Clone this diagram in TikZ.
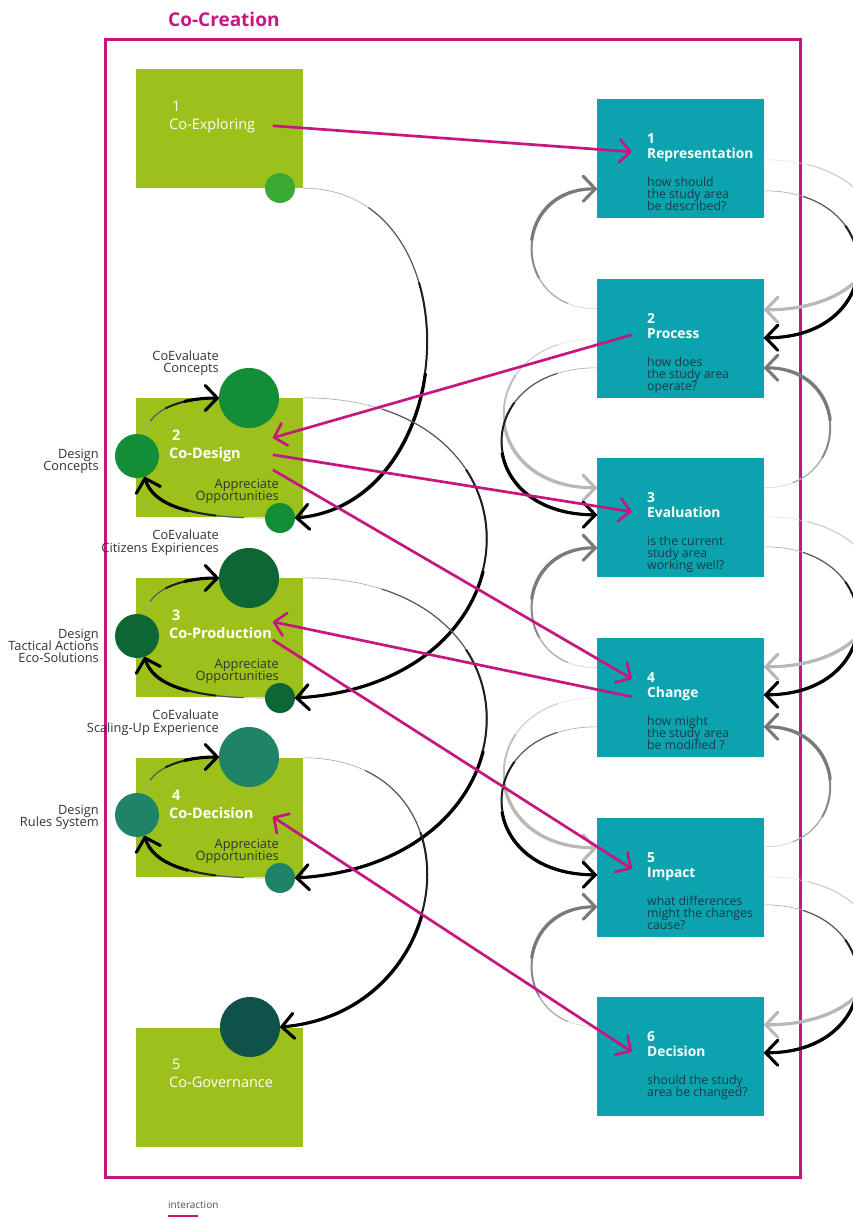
\documentclass[tikz,border=0pt]{standalone}
\usepackage{fontspec}
\setmainfont{Open Sans}
\usetikzlibrary{arrows.meta,calc}
\definecolor{limebox}{HTML}{9DC11B}
\definecolor{tealbox}{HTML}{0AA3AE}
\definecolor{mag}{HTML}{C6177F}
\definecolor{gA}{HTML}{3BA935}
\definecolor{gB}{HTML}{138D36}
\definecolor{gC}{HTML}{0E6634}
\definecolor{gD}{HTML}{1F8467}
\definecolor{gE}{HTML}{0E524A}
\definecolor{lbl}{HTML}{333333}
\definecolor{qtxt}{HTML}{1C3B47}
\definecolor{midgray}{HTML}{7A7A7A}
\definecolor{ltgray}{HTML}{B8B8B8}
\tikzset{
  arrowend/.style={-{Straight Barb[length=12pt,width=25pt,round]}},
  inter/.style={draw=mag,line width=2.7pt,-{Straight Barb[length=11pt,width=23pt,round]}},
  interboth/.style={draw=mag,line width=2.7pt,{Straight Barb[length=11pt,width=23pt,round]}-{Straight Barb[length=11pt,width=23pt,round]}},
  gbox/.style={rectangle,fill=limebox,minimum width=167pt,minimum height=119pt,inner sep=0pt},
  bbox/.style={rectangle,fill=tealbox,minimum width=167pt,minimum height=119pt,inner sep=0pt},
  blob/.style={circle,fill=#1,inner sep=0pt},
  gnum/.style={anchor=base west,inner sep=0pt,text=white,font=\fontsize{14.5}{15}\selectfont},
  gnumb/.style={anchor=base west,inner sep=0pt,text=white,font=\bfseries\fontsize{14.5}{15}\selectfont},
  lblr/.style={anchor=base east,inner sep=0pt,text=lbl,font=\fontsize{12.8}{13}\selectfont},
  bnum/.style={anchor=base west,inner sep=0pt,text=white,font=\bfseries\fontsize{13.8}{14}\selectfont},
  bq/.style={anchor=base west,inner sep=0pt,text=qtxt,font=\fontsize{12.3}{12}\selectfont},
}
\newcommand\taper[3]{%
  \pgfmathsetmacro\tpA{0.15*#2}%
  \pgfmathsetmacro\tpB{0.35*#2}%
  \pgfmathsetmacro\tpC{0.55*#2}%
  \draw[line width=0.6pt,#1!35] #3;
  \draw[line width=1.2pt,#1!65,dash pattern=on 3000pt off \tpA pt,dash phase=3000pt] #3;
  \draw[line width=2.0pt,#1!88,dash pattern=on 3000pt off \tpB pt,dash phase=3000pt] #3;
  \draw[line width=3.1pt,#1,arrowend,dash pattern=on 3000pt off \tpC pt,dash phase=3000pt] #3;
}
\newcommand\bluebox[6]{%
  \node[bbox] (#1) at (680.5,#2+59.5) {};
  \node[bnum] (#1n) at (647,#2+44) {#3};
  \node[bnum] (#1t) at (647,#2+59) {#4};
  \node[bq] (#1qa) at (647,#2+87) {#5};
  \node[bq] (#1qb) at (647,#2+99) {#6};
}
\begin{document}
\begin{tikzpicture}[x=1pt,y=-1pt]
\clip (0,0) rectangle (853,1218);
\fill[white] (0,0) rectangle (853,1218);
% title and frame
\node[anchor=base west,inner sep=0pt,text=mag,font=\bfseries\fontsize{19}{19}\selectfont] (title) at (168,27) {Co-Creation};
\draw[mag,line width=3pt] (105,39) rectangle (800,1177);
% green boxes
\node[gbox] (g1) at (219.5,128.5) {};
\node[gbox] (g2) at (219.5,457.5) {};
\node[gbox] (g3) at (219.5,637.5) {};
\node[gbox] (g4) at (219.5,817.5) {};
\node[gbox] (g5) at (219.5,1087) {};
% circles
\node[blob=gA,minimum size=30pt] (c1) at (280,188) {};
\node[blob=gB,minimum size=60pt] (B2) at (249,398) {};
\node[blob=gB,minimum size=44pt] (L2) at (137,456) {};
\node[blob=gB,minimum size=30pt] (S2) at (280,518) {};
\node[blob=gC,minimum size=60pt] (B3) at (249,578) {};
\node[blob=gC,minimum size=44pt] (L3) at (137,636) {};
\node[blob=gC,minimum size=30pt] (S3) at (280,698) {};
\node[blob=gD,minimum size=60pt] (B4) at (249,757) {};
\node[blob=gD,minimum size=44pt] (L4) at (137,815) {};
\node[blob=gD,minimum size=30pt] (S4) at (280,878) {};
\node[blob=gE,minimum size=60pt] (c5) at (250,1027) {};
% green box texts
\node[gnum] (g1n) at (172,111) {1};
\node[gnum] (g1t) at (169,129) {Co-Exploring};
\node[gnumb] (g2n) at (172,440) {2};
\node[gnumb] (g2t) at (169,458) {Co-Design};
\node[gnumb] (g3n) at (172,620) {3};
\node[gnumb] (g3t) at (169,638) {Co-Production};
\node[gnumb] (g4n) at (172,800) {4};
\node[gnumb] (g4t) at (169,818) {Co-Decision};
\node[gnum] (g5n) at (172,1069) {5};
\node[gnum] (g5t) at (169,1087) {Co-Governance};
% labels
\node[lblr] (e2a) at (219,360) {CoEvaluate};
\node[lblr] (e2b) at (219,372) {Concepts};
\node[lblr] (d2a) at (99,458) {Design};
\node[lblr] (d2b) at (99,470) {Concepts};
\node[lblr] (a2a) at (279,488) {Appreciate};
\node[lblr] (a2b) at (279,500) {Opportunities};
\node[lblr] (e3a) at (219,539) {CoEvaluate};
\node[lblr] (e3b) at (219,552) {Citizens Expiriences};
\node[lblr] (d3a) at (99,638) {Design};
\node[lblr] (d3b) at (99,650) {Tactical Actions};
\node[lblr] (d3c) at (99,662) {Eco-Solutions};
\node[lblr] (a3a) at (279,668) {Appreciate};
\node[lblr] (a3b) at (279,680) {Opportunities};
\node[lblr] (e4a) at (219,719) {CoEvaluate};
\node[lblr] (e4b) at (219,732) {Scaling-Up Experience};
\node[lblr] (d4a) at (99,814) {Design};
\node[lblr] (d4b) at (99,826) {Rules System};
\node[lblr] (a4a) at (279,848) {Appreciate};
\node[lblr] (a4b) at (279,860) {Opportunities};
% blue boxes
\bluebox{b1}{99}{1}{Representation}{how should}{the study area}
\node[bq] (b1qc) at (647,210) {be described?};
\bluebox{b2}{279}{2}{Process}{how does}{the study area}
\node[bq] (b2qc) at (647,390) {operate?};
\bluebox{b3}{458}{3}{Evaluation}{is the current}{study area}
\node[bq] (b3qc) at (647,569) {working well?};
\bluebox{b4}{638}{4}{Change}{how might}{the study area}
\node[bq] (b4qc) at (647,749) {be modified ?};
\bluebox{b5}{818}{5}{Impact}{what differences}{might the changes}
\node[bq] (b5qc) at (647,929) {cause?};
\bluebox{b6}{997}{6}{Decision}{should the study}{area be changed?}
% inner loops of green boxes
\taper{black}{100}{(L2.70) .. controls +(5,-30) and +(-30,0) .. (B2.west)}
\taper{black}{140}{(S2.west) .. controls +(-75,0) and +(8,28) .. (L2.-70)}
\taper{black}{100}{(L3.70) .. controls +(5,-30) and +(-30,0) .. (B3.west)}
\taper{black}{140}{(S3.west) .. controls +(-75,0) and +(8,28) .. (L3.-70)}
\taper{black}{100}{(L4.70) .. controls +(5,-30) and +(-30,0) .. (B4.west)}
\taper{black}{140}{(S4.west) .. controls +(-75,0) and +(8,28) .. (L4.-70)}
% long arcs on the left
\taper{black}{460}{(g1.south east) .. controls +(171,0) and +(170,-15) .. (S2.east)}
\taper{black}{530}{(g2.north east) .. controls +(250,0) and +(250,-15) .. (S3.east)}
\taper{black}{530}{(g3.north east) .. controls +(250,0) and +(250,-15) .. (S4.east)}
\taper{black}{425}{(g4.north east) .. controls +(180,0) and +(180,-15) .. (c5.east)}
% right side arcs of blue boxes
\taper{ltgray}{294}{($(b1.north east)+(0,61)$) .. controls +(150,0) and +(150,0) .. ($(b2.north east)+(0,31)$)}
\taper{black}{262}{($(b1.north east)+(0,92)$) .. controls +(125,0) and +(125,0) .. ($(b2.north east)+(0,59)$)}
\taper{ltgray}{294}{($(b3.north east)+(0,59)$) .. controls +(150,0) and +(150,0) .. ($(b4.north east)+(0,29)$)}
\taper{black}{262}{($(b3.north east)+(0,89)$) .. controls +(125,0) and +(125,0) .. ($(b4.north east)+(0,57)$)}
\taper{ltgray}{294}{($(b5.north east)+(0,59)$) .. controls +(150,0) and +(150,0) .. ($(b6.north east)+(0,28)$)}
\taper{black}{262}{($(b5.north east)+(0,87)$) .. controls +(125,0) and +(125,0) .. ($(b6.north east)+(0,56)$)}
\taper{midgray}{195}{($(b3.north east)+(0,30)$) .. controls +(88,0) and +(88,0) .. ($(b2.north east)+(0,89)$)}
\taper{midgray}{195}{($(b5.north east)+(0,29)$) .. controls +(88,0) and +(88,0) .. ($(b4.north east)+(0,89)$)}
% left side arcs of blue boxes
\taper{midgray}{196}{($(b2.north west)+(0,30)$) .. controls +(-87,0) and +(-87,0) .. ($(b1.north west)+(0,90)$)}
\taper{midgray}{196}{($(b4.north west)+(0,30)$) .. controls +(-87,0) and +(-87,0) .. ($(b3.north west)+(0,90)$)}
\taper{midgray}{196}{($(b6.north west)+(0,30)$) .. controls +(-87,0) and +(-87,0) .. ($(b5.north west)+(0,89)$)}
\taper{ltgray}{264}{($(b2.north west)+(0,60)$) .. controls +(-124,0) and +(-124,0) .. ($(b3.north west)+(0,30)$)}
\taper{black}{265}{($(b2.north west)+(0,89)$) .. controls +(-127,0) and +(-127,0) .. ($(b3.north west)+(0,57)$)}
\taper{ltgray}{264}{($(b4.north west)+(0,60)$) .. controls +(-124,0) and +(-124,0) .. ($(b5.north west)+(0,30)$)}
\taper{black}{265}{($(b4.north west)+(0,89)$) .. controls +(-127,0) and +(-127,0) .. ($(b5.north west)+(0,57)$)}
% interactions
\draw[inter] ($(g1.north west)+(137,57)$) -- ($(b1.north west)+(35,53)$);
\draw[inter] ($(b2.north west)+(35,56)$) -- ($(g2.north west)+(137,40)$);
\draw[inter] ($(g2.north west)+(137,57)$) -- ($(b3.north west)+(35,54)$);
\draw[inter] ($(g2.north west)+(137,72)$) -- ($(b4.north west)+(35,41)$);
\draw[inter] ($(b4.north west)+(35,59)$) -- ($(g3.north west)+(137,44)$);
\draw[inter] ($(g3.north west)+(137,62)$) -- ($(b5.north west)+(35,51)$);
\draw[interboth] ($(g4.north west)+(137,59)$) -- ($(b6.north west)+(35,55)$);
% legend
\node[anchor=base west,inner sep=0pt,text=lbl!85,font=\fontsize{10}{10}\selectfont] (leg) at (168,1208) {interaction};
\draw[mag,line width=2.5pt] ($(leg.base west)+(0,8)$) -- ($(leg.base west)+(30,8)$);
\end{tikzpicture}
\end{document}
